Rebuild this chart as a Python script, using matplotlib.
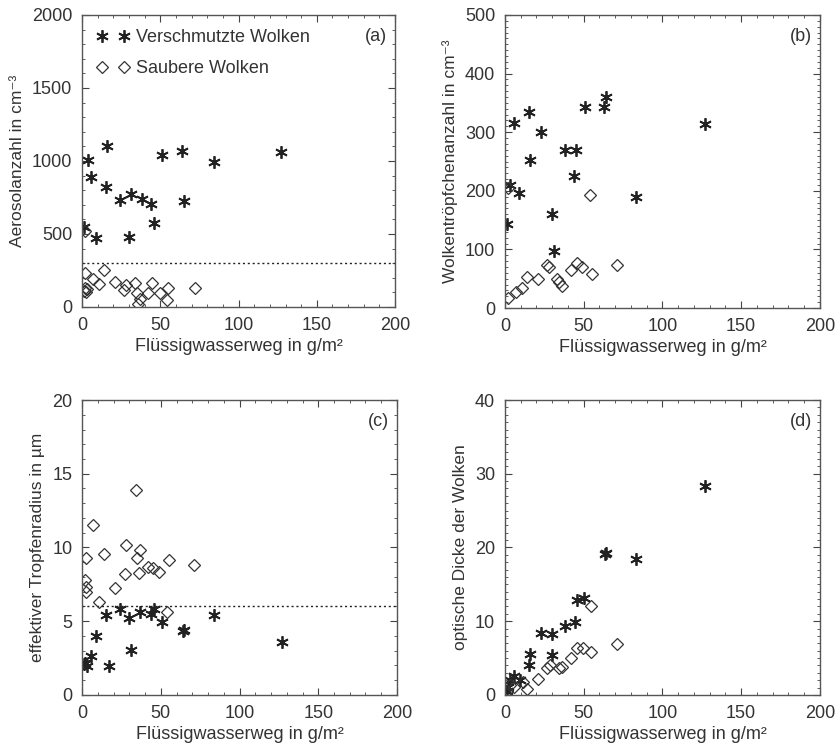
import matplotlib
matplotlib.use("Agg")
import matplotlib.pyplot as plt
from matplotlib.ticker import MultipleLocator

plt.rcParams['font.family'] = ['Liberation Sans', 'DejaVu Sans']
plt.rcParams['font.size'] = 13

# (a) Aerosolanzahl
a_dirty_x = [1, 4, 6, 9, 16, 15, 24, 31, 30, 38, 44, 46, 51, 64, 65, 84, 127]
a_dirty_y = [550, 1010, 890, 470, 1100, 820, 735, 775, 478, 740, 705, 575, 1040, 1070, 725, 995, 1060]
a_clean_x = [2, 2, 2, 1.5, 3, 2.5, 7, 11, 14, 21, 28, 27, 34, 35, 37, 36, 42, 45, 50, 55, 54, 72]
a_clean_y = [520, 230, 130, 110, 120, 100, 190, 158, 250, 173, 151, 116, 167, 94, 53, 21, 94, 167, 94, 128, 48, 128]

# (b) Wolkentroepfchenanzahl
b_dirty_x = [1.5, 3, 9, 6, 15, 16, 23, 30, 31, 38, 45, 44, 51, 63, 64, 83, 127]
b_dirty_y = [143, 210, 197, 315, 335, 253, 300, 160, 98, 270, 270, 225, 343, 343, 360, 189, 314]
b_clean_x = [2, 2, 7, 11, 14, 21, 27, 28, 33, 34, 36, 42, 45.5, 49, 54, 55, 71]
b_clean_y = [17, 204, 28, 35, 53, 50, 73, 70, 49, 45, 38, 65, 76, 70, 193, 58, 73]

# (c) effektiver Tropfenradius
c_dirty_x = [2, 3, 1.5, 6, 9, 15, 17, 24, 30, 31, 37, 44, 45.5, 51, 64, 65, 84, 127]
c_dirty_y = [2.15, 1.97, 2.1, 2.65, 4.0, 5.45, 1.97, 5.8, 5.2, 3.05, 5.6, 5.5, 5.8, 4.97, 4.35, 4.4, 5.4, 3.6]
c_clean_x = [2, 2.5, 2.5, 2.5, 7, 11, 14, 21, 27, 28, 34, 35, 36, 37, 42, 45, 49, 54, 55, 71]
c_clean_y = [7.8, 7.3, 7.0, 9.3, 11.5, 6.33, 9.55, 7.25, 8.2, 10.2, 13.9, 9.3, 8.25, 9.8, 8.65, 8.6, 8.35, 5.65, 9.15, 8.8]

# (d) optische Dicke
d_dirty_x = [2, 3, 6, 9.5, 1, 15, 16, 23, 30, 30, 38, 44.5, 45.5, 50, 63.5, 64, 83, 127]
d_dirty_y = [1.1, 2.0, 2.6, 2.0, 0.6, 4.07, 5.56, 8.45, 8.27, 5.4, 9.36, 9.86, 12.9, 13.1, 19.1, 19.2, 18.4, 28.3]
d_clean_x = [1.5, 3, 6, 11.5, 14, 21, 27, 28.5, 34, 36, 42, 45.5, 49.5, 54.5, 54.5, 71]
d_clean_y = [0.5, 1.3, 1.1, 1.7, 0.77, 2.13, 3.6, 4.1, 3.6, 3.8, 4.97, 6.33, 6.33, 5.8, 12.1, 6.9]

xlabel = 'Flüssigwasserweg in g/m²'
star = (6, 2, 0)
ink = '#222222'
txt = '#333333'

fig = plt.figure(figsize=(8.37, 7.46), dpi=100)
positions = [[0.098, 0.5885, 0.374, 0.3914],
             [0.6033, 0.5871, 0.3763, 0.3928],
             [0.098, 0.0684, 0.3763, 0.3954],
             [0.6033, 0.0684, 0.3763, 0.3954]]

panels = [
    (a_dirty_x, a_dirty_y, a_clean_x, a_clean_y, 2000, 500, 100, 'Aerosolanzahl in cm⁻³', '(a)', 300),
    (b_dirty_x, b_dirty_y, b_clean_x, b_clean_y, 500, 100, 10, 'Wolkentröpfchenanzahl in cm⁻³', '(b)', None),
    (c_dirty_x, c_dirty_y, c_clean_x, c_clean_y, 20, 5, 1, 'effektiver Tropfenradius in µm', '(c)', 6),
    (d_dirty_x, d_dirty_y, d_clean_x, d_clean_y, 40, 10, 1, 'optische Dicke der Wolken', '(d)', None),
]

for pos, (dx, dy, cx, cy, ymax, ymaj, ymin, ylab, tag, thr) in zip(positions, panels):
    ax = fig.add_axes(pos)
    if thr is not None:
        ax.axhline(thr, color=ink, ls=(0, (1.5, 2)), lw=1)
    ax.plot(dx, dy, ls='none', marker=star, ms=9, mew=1.3, color=ink, label='Verschmutzte Wolken')
    ax.plot(cx, cy, ls='none', marker='D', ms=5.8, mew=0.9, mfc='none', mec=txt, label='Saubere Wolken')
    ax.set_xlim(0, 200)
    ax.set_ylim(0, ymax)
    ax.xaxis.set_major_locator(MultipleLocator(50))
    ax.xaxis.set_minor_locator(MultipleLocator(10))
    ax.yaxis.set_major_locator(MultipleLocator(ymaj))
    ax.yaxis.set_minor_locator(MultipleLocator(ymin))
    ax.tick_params(which='both', direction='in', top=True, right=True, colors='#444444',
                   labelcolor=txt, labelsize=13)
    ax.tick_params(which='major', length=5, pad=7)
    ax.tick_params(which='minor', length=2.5)
    for s in ax.spines.values():
        s.set_color('#555555')
        s.set_linewidth(1)
    ax.set_xlabel(xlabel, color=txt, fontsize=13, labelpad=3)
    ax.set_ylabel(ylab, color=txt, fontsize=12.5, labelpad=5)
    ax.text(0.975, 0.955, tag, transform=ax.transAxes, ha='right', va='top', color=txt, fontsize=13)
    if tag == '(a)':
        ax.legend(loc='upper left', frameon=False, numpoints=2, handlelength=1.8,
                  borderaxespad=0.4, labelspacing=0.75, handletextpad=0.4, fontsize=13,
                  labelcolor=txt)

fig.savefig('out.png', dpi=100)
